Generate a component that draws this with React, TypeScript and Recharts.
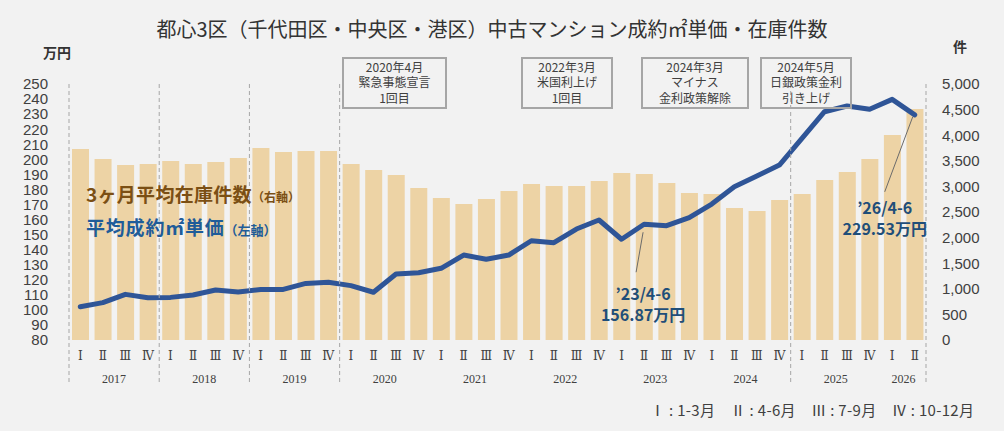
import React from 'react';
import { ComposedChart, Bar, Line, XAxis, YAxis, LabelList } from 'recharts';

// ---- data -------------------------------------------------------------
const years = ['2017', '2018', '2019', '2020', '2021', '2022', '2023', '2024', '2025', '2026'];
const quarters = ['Ⅰ', 'Ⅱ', 'Ⅲ', 'Ⅳ'];

// 3ヶ月平均在庫件数（件）
const inventory = [
  3730, 3535, 3418, 3437,
  3496, 3437, 3477, 3555,
  3750, 3672, 3691, 3691,
  3437, 3320, 3223, 2969,
  2773, 2656, 2754, 2910,
  3047, 3008, 3008, 3105,
  3262, 3242, 3066, 2871,
  2852, 2578, 2520, 2734,
  2852, 3125, 3281, 3535,
  4004, 4512,
];

// 平均成約㎡単価（万円）
const unitPrice = [
  102.1, 104.8, 110.3, 108.1,
  108.3, 109.9, 113.2, 111.9,
  113.6, 113.6, 117.6, 118.3,
  116.1, 111.7, 123.8, 124.7,
  127.6, 136.4, 133.6, 136.4,
  145.9, 144.6, 153.7, 159.7,
  146.9, 156.87, 155.9, 161.2,
  170.3, 181.8, 188.9, 196.2,
  213.9, 231.6, 235.4, 233.2,
  239.8, 229.53,
];

const leftTicks = [80, 90, 100, 110, 120, 130, 140, 150, 160, 170, 180, 190, 200, 210, 220, 230, 240, 250];
const rightTicks = [0, 500, 1000, 1500, 2000, 2500, 3000, 3500, 4000, 4500, 5000];

// years whose first quarter gets a dashed divider
const dividerYears = ['2017', '2018', '2019', '2020', '2025'];

// periods with a value callout
const calloutPeriods = ['2023 Ⅱ', '2026 Ⅱ'];

const periods = years.flatMap((y) => quarters.map((q) => `${y} ${q}`)).slice(0, inventory.length);

const data = periods.map((p, i) => ({
  period: p,
  year: p.split(' ')[0],
  quarter: p.split(' ')[1],
  inventory: inventory[i],
  price: unitPrice[i],
}));

// ---- layout -------------------------------------------------------------
const W = 1004;
const H = 431;
const PLOT_LEFT = 69;
const PLOT_RIGHT = 926;
const PLOT_TOP = 84;
const BAND = (PLOT_RIGHT - PLOT_LEFT) / data.length;

const BAR_COLOR = '#EDD3A5';
const LINE_COLOR = '#2F5597';
const AXIS_TEXT = '#404040';
const JP = '"Noto Sans CJK JP", "Noto Sans", sans-serif';
const SERIF = '"Liberation Serif", "DejaVu Serif", serif';

const CategoryTick = (props: any) => {
  const { x, y, payload } = props;
  const i: number = payload.index ?? props.index;
  const d = data[i];
  if (!d) return null;
  const qIdx = quarters.indexOf(d.quarter);
  const inYear = data.filter((r) => r.year === d.year).length;
  const firstX = x - qIdx * BAND;
  const yearX = firstX + ((inYear - 1) / 2) * BAND;
  const top = PLOT_TOP - y;
  return (
    <g>
      <text x={x} y={y + 20} textAnchor="middle" fontFamily={SERIF} fontSize={12} fill={AXIS_TEXT}>
        {d.quarter}
      </text>
      {qIdx === 1 && (
        <text x={yearX} y={y + 43} textAnchor="middle" fontFamily={SERIF} fontSize={12} fill={AXIS_TEXT}>
          {d.year}
        </text>
      )}
      {qIdx === 0 && dividerYears.includes(d.year) && (
        <line x1={x - BAND / 2} x2={x - BAND / 2} y1={y + top} y2={y + 42} stroke="#A6A6A6" strokeWidth={1} strokeDasharray="4 3" />
      )}
      {i === data.length - 1 && (
        <line x1={x + BAND / 2} x2={x + BAND / 2} y1={y + top} y2={y + 42} stroke="#A6A6A6" strokeWidth={1} strokeDasharray="4 3" />
      )}
    </g>
  );
};

const PriceCallout = (props: any) => {
  const { x, y, value, index } = props;
  const d = data[index];
  if (!d || !calloutPeriods.includes(d.period)) return null;
  const [yy, q] = d.period.split(' ');
  const months = ['1-3', '4-6', '7-9', '10-12'][quarters.indexOf(q)];
  const head = `’${yy.slice(2)}/${months}`;
  const body = `${Number(value).toFixed(2)}万円`;
  const last = index === data.length - 1;
  const tx = last ? x - 30 : x - 1;
  const t1 = last ? y + 99 : y + 76;
  const lx1 = last ? x - 30 : x - 8;
  const ly1 = last ? y + 77 : y + 48;
  const lx2 = last ? x - 2 : x - 1;
  const ly2 = last ? y + 2 : y + 8;
  return (
    <g>
      <line x1={lx1} y1={ly1} x2={lx2} y2={ly2} stroke="#6b6b6b" strokeWidth={1} />
      <text x={tx} y={t1} textAnchor="middle" fontFamily={JP} fontWeight={700} fontSize={16} fill="#1F4E79">
        {head}
      </text>
      <text x={tx} y={t1 + 21} textAnchor="middle" fontFamily={JP} fontWeight={700} fontSize={16} fill="#1F4E79">
        {body}
      </text>
    </g>
  );
};

const events = [
  { x: 343, w: 103, lines: ['2020年4月', '緊急事態宣言', '1回目'] },
  { x: 522, w: 90, lines: ['2022年3月', '米国利上げ', '1回目'] },
  { x: 642, w: 106, lines: ['2024年3月', 'マイナス', '金利政策解除'] },
  { x: 761, w: 90, lines: ['2024年5月', '日銀政策金利', '引き上げ'] },
];

export default function App() {
  return (
    <div style={{ position: 'absolute', left: 0, top: 0, width: W, height: H, background: '#F2F2F2' }}>
      <ComposedChart
        width={W}
        height={H}
        data={data}
        margin={{ top: PLOT_TOP, right: 0, bottom: 31, left: 0 }}
        barSize={17}
      >
        <XAxis
          dataKey="period"
          axisLine={false}
          tickLine={false}
          tickSize={0}
          tickMargin={0}
          height={60}
          interval={0}
          tick={<CategoryTick />}
        />
        <YAxis
          yAxisId="left"
          orientation="left"
          width={PLOT_LEFT}
          domain={[80, 250]}
          ticks={leftTicks}
          interval={0}
          axisLine={false}
          tickLine={false}
          tickSize={0}
          tickMargin={21}
          tick={{ fontFamily: '"Liberation Sans", Arial, sans-serif', fontSize: 15, fill: AXIS_TEXT }}
        />
        <YAxis
          yAxisId="right"
          orientation="right"
          width={W - PLOT_RIGHT}
          domain={[0, 5000]}
          ticks={rightTicks}
          interval={0}
          axisLine={false}
          tickLine={false}
          tickSize={0}
          tickMargin={16}
          tickFormatter={(v: number) => v.toLocaleString('en-US')}
          tick={{ fontFamily: '"Liberation Sans", Arial, sans-serif', fontSize: 15, fill: AXIS_TEXT, textAnchor: 'start' }}
        />
        <Bar yAxisId="right" dataKey="inventory" fill={BAR_COLOR} isAnimationActive={false} />
        <Line
          yAxisId="left"
          dataKey="price"
          stroke={LINE_COLOR}
          strokeWidth={5}
          strokeLinecap="round"
          strokeLinejoin="round"
          dot={false}
          activeDot={false}
          isAnimationActive={false}
        >
          <LabelList dataKey="price" content={<PriceCallout />} />
        </Line>
      </ComposedChart>

      <svg width={W} height={H} style={{ position: 'absolute', left: 0, top: 0, pointerEvents: 'none' }}>
        <text x={492} y={37} textAnchor="middle" fontFamily={JP} fontSize={20} fill="#333333">
          都心3区（千代田区・中央区・港区）中古マンション成約㎡単価・在庫件数
        </text>
        <text x={57} y={58} textAnchor="middle" fontFamily={JP} fontWeight={700} fontSize={14} fill="#333333">
          万円
        </text>
        <text x={960} y={52} textAnchor="middle" fontFamily={JP} fontWeight={700} fontSize={14} fill="#333333">
          件
        </text>

        <text x={86} y={202} fontFamily={JP} fontWeight={700} fontSize={19} letterSpacing={0.3} fill="#7B4F14">
          3ヶ月平均在庫件数<tspan fontSize={12} letterSpacing={0}>（右軸）</tspan>
        </text>
        <text x={86} y={235} fontFamily={JP} fontWeight={700} fontSize={19} letterSpacing={0.8} fill="#1F5C99">
          平均成約㎡単価<tspan fontSize={13} letterSpacing={0}>（左軸）</tspan>
        </text>

        {events.map((e) => (
          <g key={e.lines[0]}>
            <rect x={e.x} y={58} width={e.w} height={50} fill="none" stroke="#A6A6A6" strokeWidth={2} />
            {e.lines.map((l, k) => (
              <text
                key={l}
                x={e.x + e.w / 2}
                y={71.5 + k * 15.8}
                textAnchor="middle"
                fontFamily={JP}
                fontSize={12}
                fill={AXIS_TEXT}
              >
                {l}
              </text>
            ))}
          </g>
        ))}

        <text x={650} y={416} fontFamily={JP} fontSize={15} fill={AXIS_TEXT} textLength={324} lengthAdjust="spacing">
          Ⅰ : 1-3月　Ⅱ : 4-6月　Ⅲ : 7-9月　Ⅳ : 10-12月
        </text>
      </svg>
    </div>
  );
}
